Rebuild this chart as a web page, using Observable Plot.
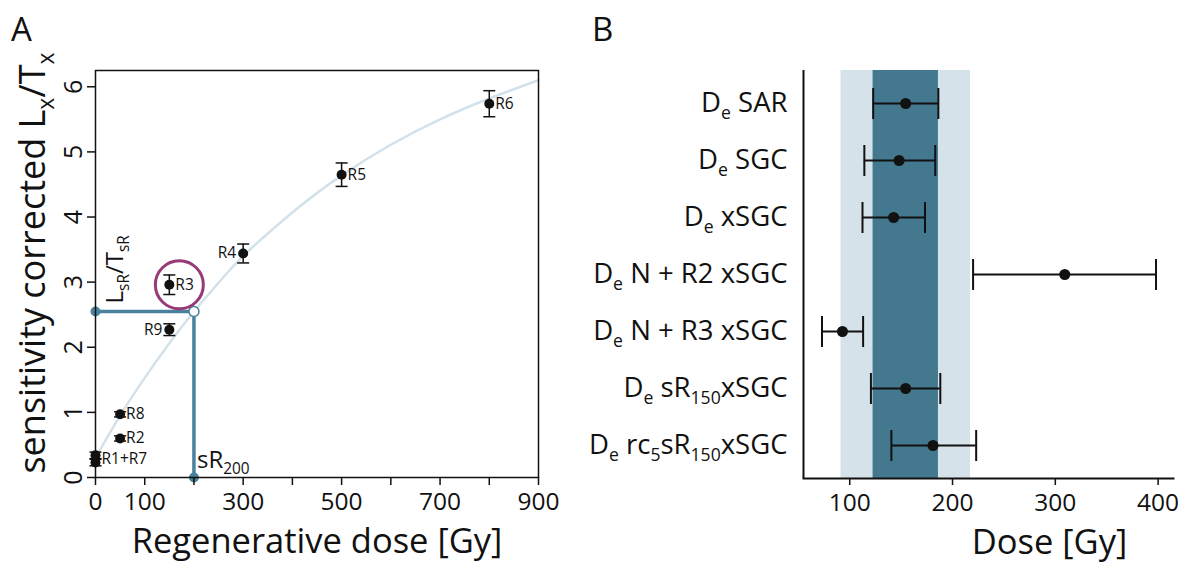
<!DOCTYPE html>
<html><head><meta charset="utf-8">
<script src="https://cdn.jsdelivr.net/npm/d3@7"></script>
<script src="https://cdn.jsdelivr.net/npm/@observablehq/plot@0.6"></script>
<style>
body{margin:0;background:#fff;font-family:"Open Sans",sans-serif;}
#wrap{position:relative;width:1184px;height:562px;overflow:hidden;}
.panel{position:absolute;top:0;}
.tag{position:absolute;font-size:33px;color:#111;line-height:1;}
</style></head><body>
<div id="wrap">
  <div id="a" class="panel" style="left:0"></div>
  <div id="b" class="panel" style="left:560px"></div>
  <div class="tag" style="left:11px;top:12px">A</div>
  <div class="tag" style="left:592px;top:12px">B</div>
</div>
<script>
// ---------- Panel A data ----------
const names  = ["R1","R7","R2","R8","R9","R3","R4","R5","R6"];
const doses  = [0, 0, 50, 50, 150, 150, 300, 500, 800];
const values = [0.23, 0.34, 0.60, 0.97, 2.27, 2.96, 3.44, 4.65, 5.74];
const errs   = [0.05, 0.05, 0.04, 0.04, 0.09, 0.15, 0.145, 0.18, 0.20];
const pointLabels = ["R1+R7", null, "R2", "R8", "R9", "R3", "R4", "R5", "R6"];
const leftLabelled = ["R4", "R9"];
const curveDoses  = [0, 50, 100, 150, 200, 250, 300, 400, 500, 600, 700, 800, 900];
const curveValues = [0.30, 0.95, 1.53, 2.06, 2.55, 2.99, 3.40, 4.07, 4.64, 5.11, 5.50, 5.82, 6.10];
const srDose = 200, srValue = 2.55;
const xTicksA = [0,100,200,300,400,500,600,700,800,900];
const xTickLabelsA = [0,100,300,500,700,900];
const yTicksA = [0,1,2,3,4,5,6];
const yLabelA = "sensitivity corrected L_{x}/T_{x}";
const xLabelA = "Regenerative dose [Gy]";

// ---------- Panel B data ----------
const rowsB = ["D_{e} SAR","D_{e} SGC","D_{e} xSGC","D_{e} N + R2 xSGC","D_{e} N + R3 xSGC","D_{e} sR_{150}xSGC","D_{e} rc_{5}sR_{150}xSGC"];
const doseB = [154.4, 148.0, 142.7, 309.2, 92.9, 154.4, 181.0];
const lowB  = [122.8, 114.2, 112.4, 220.0, 73.0, 120.6, 140.5];
const highB = [186.2, 183.2, 173.2, 398.0, 113.0, 188.1, 223.0];
const outerBand = [91.5, 217.5];
const innerBand = [122.7, 186.3];
const xTicksB = [100, 200, 300, 400];
const xLabelB = "Dose [Gy]";

const ink = "#111";
const blue = "#4a819c";
const font = "'Open Sans', sans-serif";
const hcap = {draw(ctx, size){const r=Math.sqrt(size/Math.PI);ctx.moveTo(-r,0);ctx.lineTo(r,0);}};
const vcap = {draw(ctx, size){const r=Math.sqrt(size/Math.PI);ctx.moveTo(0,-r);ctx.lineTo(0,r);}};

const pts = names.map((n,i)=>({name:n, x:doses[i], y:values[i], e:errs[i], label:pointLabels[i]}));
const lab = pts.filter(d=>d.label).map(d=>{
  if (d.label.includes("+")) {
    const grp = pts.filter(p=>d.label.split("+").includes(p.name));
    return {...d, y: d3.mean(grp, p=>p.y)};
  }
  return d;
});
const curve = curveDoses.map((x,i)=>({x, y:curveValues[i]}));
const srPath = [{x:0,y:srValue},{x:srDose,y:srValue},{x:srDose,y:0}];
const r3 = pts.filter(d=>d.name==="R3");

const plotA = Plot.plot({
  width:560, height:562, marginLeft:95, marginRight:22, marginTop:70, marginBottom:85,
  style:{fontFamily:font, color:ink, background:"transparent", overflow:"visible"},
  x:{domain:[0,900]}, y:{domain:[0,6.25]},
  marks:[
    Plot.line(curve,{x:"x",y:"y",stroke:"#d3e1ea",strokeWidth:2.5,curve:"natural"}),
    Plot.line(srPath,{x:"x",y:"y",stroke:blue,strokeWidth:3.5}),
    Plot.dot([srPath[0], srPath[2]],{x:"x",y:"y",r:5,fill:blue}),
    Plot.dot([srPath[1]],{x:"x",y:"y",r:5,fill:"white",stroke:blue,strokeWidth:1.5}),
    Plot.frame({stroke:ink,strokeWidth:1.5}),
    Plot.axisX({ticks:xTicksA, tickFormat:d=>xTickLabelsA.includes(d)?String(d):"", tickSize:8, tickPadding:7, fontSize:24.5, label:null, strokeWidth:1.5}),
    Plot.axisY({ticks:yTicksA, tickFormat:d3.format("d"), tickSize:8, tickPadding:6, tickRotate:-90, fontSize:25, label:null, strokeWidth:1.5}),
    Plot.ruleX(pts,{x:"x",y1:d=>d.y-d.e,y2:d=>d.y+d.e,stroke:ink,strokeWidth:1.5}),
    Plot.dot(pts,{x:"x",y:d=>d.y-d.e,symbol:hcap,r:6,stroke:ink,strokeWidth:1.5,fill:"none"}),
    Plot.dot(pts,{x:"x",y:d=>d.y+d.e,symbol:hcap,r:6,stroke:ink,strokeWidth:1.5,fill:"none"}),
    Plot.dot(pts,{x:"x",y:"y",r:5,fill:ink}),
    Plot.text(lab.filter(d=>!leftLabelled.includes(d.name)),{x:"x",y:"y",text:"label",textAnchor:"start",dx:6,fontSize:15.5,fill:ink}),
    Plot.text(lab.filter(d=>leftLabelled.includes(d.name)),{x:"x",y:"y",text:"label",textAnchor:"end",dx:-7,fontSize:15.5,fill:ink}),
    Plot.dot(r3,{x:"x",y:"y",r:24,dx:10,stroke:"#973a78",strokeWidth:3,fill:"none"}),
    Plot.text([srPath[0]],{x:"x",y:"y",text:()=>"L_{sR}/T_{sR}",rotate:-90,textAnchor:"start",dx:20,dy:-8,fontSize:24,fill:ink}),
    Plot.text([srPath[2]],{x:"x",y:"y",text:()=>"sR_{200}",textAnchor:"start",dx:3,dy:-17,fontSize:24,fill:ink}),
    Plot.text([yLabelA],{frameAnchor:"left",dx:-62,dy:-11,rotate:-90,textAnchor:"middle",fontSize:36,fill:ink}),
    Plot.text([xLabelA],{frameAnchor:"bottom",dy:75.5,textAnchor:"middle",fontSize:34.5,fill:ink})
  ]
});

const dataB = rowsB.map((r,i)=>({row:r, x:doseB[i], lo:lowB[i], hi:highB[i]}));
const plotB = Plot.plot({
  width:624, height:562, marginLeft:243, marginRight:11, marginTop:70, marginBottom:84,
  style:{fontFamily:font, color:ink, background:"transparent", overflow:"visible"},
  x:{domain:[55,415]}, y:{type:"point", domain:rowsB, padding:0.56},
  marks:[
    Plot.rect([outerBand],{x1:d=>d[0],x2:d=>d[1],fill:"#d6e2e9"}),
    Plot.rect([innerBand],{x1:d=>d[0],x2:d=>d[1],fill:"#44788f"}),
    Plot.ruleY(dataB,{y:"row",x1:"lo",x2:"hi",stroke:ink,strokeWidth:2}),
    Plot.dot(dataB,{x:"lo",y:"row",symbol:vcap,r:15.5,stroke:ink,strokeWidth:2,fill:"none"}),
    Plot.dot(dataB,{x:"hi",y:"row",symbol:vcap,r:15.5,stroke:ink,strokeWidth:2,fill:"none"}),
    Plot.dot(dataB,{x:"x",y:"row",r:5.5,fill:ink}),
    Plot.ruleX([55],{stroke:ink,strokeWidth:2}),
    Plot.frame({anchor:"bottom",stroke:ink,strokeWidth:2}),
    Plot.axisX({ticks:xTicksB, tickSize:7, tickPadding:8, fontSize:24.5, label:null, strokeWidth:1.5}),
    Plot.axisY({tickSize:0, tickPadding:16, fontSize:27.5, label:null}),
    Plot.text([xLabelB],{frameAnchor:"bottom",dx:61,dy:75,textAnchor:"middle",fontSize:34.5,fill:ink})
  ]
});

document.getElementById("a").appendChild(plotA);
document.getElementById("b").appendChild(plotB);

function subify(root){
  root.querySelectorAll("text").forEach(t=>{
    if (t.children.length) return;
    const s = t.textContent;
    if (!s.includes("_{")) return;
    const fs = parseFloat(getComputedStyle(t).fontSize);
    const shift = fs*0.24, sfs = fs*0.64;
    t.textContent = "";
    const parts = s.split(/_\{([^}]*)\}/);
    let lowered = false;
    parts.forEach((p,i)=>{
      if (!p) return;
      const ts = document.createElementNS("http://www.w3.org/2000/svg","tspan");
      const isSub = i%2===1;
      if (isSub && !lowered){ts.setAttribute("dy",shift);lowered=true;}
      if (!isSub && lowered){ts.setAttribute("dy",-shift);lowered=false;}
      if (isSub) ts.setAttribute("font-size",sfs);
      ts.textContent = p;
      t.appendChild(ts);
    });
  });
}
subify(plotA); subify(plotB);
</script>
</body></html>
